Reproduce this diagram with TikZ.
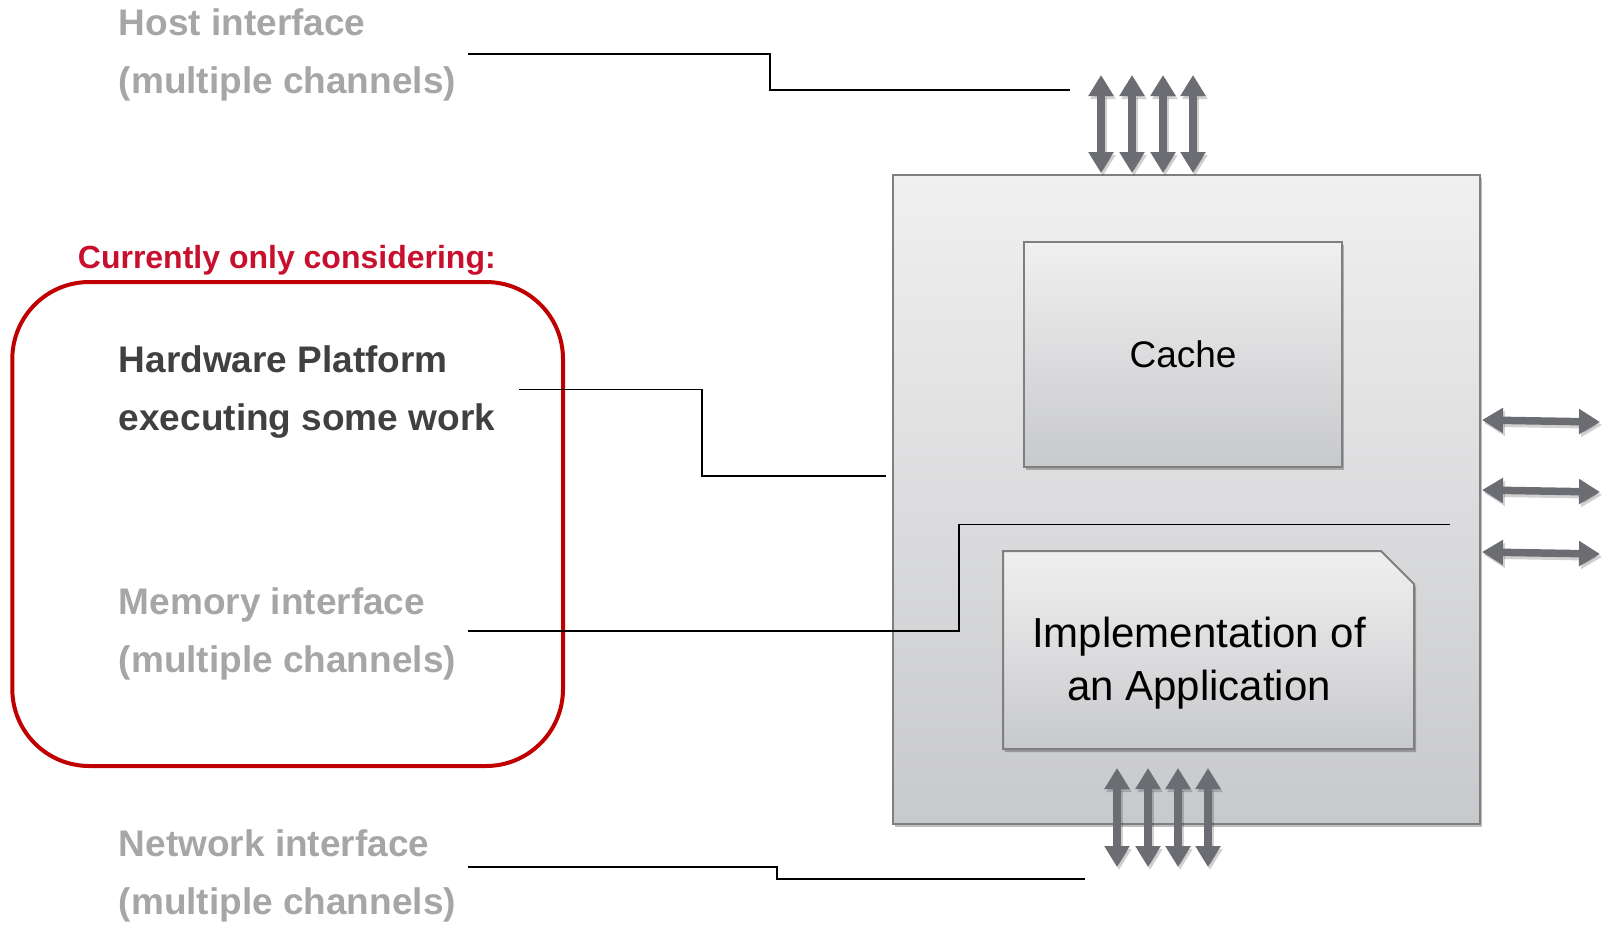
\documentclass[tikz,border=0pt]{standalone}
\usepackage{fontspec}
\setmainfont{Liberation Sans}
\usetikzlibrary{arrows.meta,shadows}

\definecolor{labelgray}{HTML}{A6A6A6}
\definecolor{darktext}{HTML}{404040}
\definecolor{alertred}{HTML}{C8102E}
\definecolor{boxred}{HTML}{C00000}
\definecolor{arrowgray}{HTML}{6B6D73}
\definecolor{edgegray}{HTML}{7F7F7F}
\definecolor{shadetop}{HTML}{F0F0F0}
\definecolor{shadebot}{HTML}{C8C9CC}

\tikzset{
  graylabel/.style={anchor=base west, inner sep=0pt, text=labelgray,
    font=\fontsize{37}{44}\selectfont\bfseries},
  darklabel/.style={graylabel, text=darktext},
  redhead/.style={anchor=base west, inner sep=0pt, text=alertred,
    font=\fontsize{32}{38}\selectfont\bfseries},
  leader/.style={draw=black, line width=1.6pt},
  softshadow/.style={drop shadow={shadow xshift=2pt, shadow yshift=-3pt,
    opacity=0.25, fill=black}},
  greybox/.style={draw=edgegray, line width=2pt, top color=shadetop,
    bottom color=shadebot, softshadow},
  portarrow/.style={draw=arrowgray, line width=7.5pt,
    {Triangle[width=24pt,length=21pt]}-{Triangle[width=24pt,length=21pt]}},
  portshadow/.style={portarrow, draw=black, opacity=0.18,
    transform canvas={xshift=2pt, yshift=-3pt}},
}

\begin{document}
\begin{tikzpicture}[x=1pt,y=-1pt]
\useasboundingbox (0,0) rectangle (1603,924);

% ---- left-hand labels ----
\node[graylabel] (host1) at (118.6,35)  {Host interface};
\node[graylabel] (host2) at (118.6,93)  {(multiple channels)};
\node[redhead]   (focus) at (77.7,268)  {Currently only considering:};
\node[darklabel] (hw1)   at (118.6,372) {Hardware Platform};
\node[darklabel] (hw2)   at (118.6,430) {executing some work};
\node[graylabel] (mem1)  at (118.6,614.5) {Memory interface};
\node[graylabel] (mem2)  at (118.6,672.5) {(multiple channels)};
\node[graylabel] (net1)  at (118.6,856) {Network interface};
\node[graylabel] (net2)  at (118.6,914) {(multiple channels)};

% ---- highlighted group ----
\node (focusbox) [draw=boxred, line width=4pt, rounded corners=77pt,
  minimum width=550.7pt, minimum height=484pt, inner sep=0pt] at (287.65,524) {};

% ---- platform block ----
\node (platform) [greybox, minimum width=587.5pt, minimum height=649pt,
  inner sep=0pt] at (1186.25,499.5) {};

\node (cache) [greybox, minimum width=318pt, minimum height=225pt, inner sep=0pt,
  font=\fontsize{37}{44}\selectfont] at (1183,354.5) {Cache};

\path[greybox] (1003,551) -- (1381,551) -- (1414,584) -- (1414,749)
  -- (1003,749) -- cycle;
\node (impl1) [anchor=base, inner sep=0pt, font=\fontsize{42}{52}\selectfont]
  at (1199,647) {Implementation of};
\node (impl2) [anchor=base, inner sep=0pt, font=\fontsize{42}{52}\selectfont]
  at (1199,700) {an Application};

% ---- interface ports ----
\foreach \x [count=\i] in {1101,1132,1163,1193} {
  \coordinate (top\i a) at (\x,75);
  \coordinate (top\i b) at (\x,173);
  \draw[portshadow] (top\i a) -- (top\i b);
  \draw[portarrow]  (top\i a) -- (top\i b);
}
\foreach \x [count=\i] in {1117,1148,1178,1208} {
  \coordinate (bot\i a) at (\x,768);
  \coordinate (bot\i b) at (\x,867);
  \draw[portshadow] (bot\i a) -- (bot\i b);
  \draw[portarrow]  (bot\i a) -- (bot\i b);
}
\foreach \y [count=\i] in {420,490,552} {
  \coordinate (side\i a) at (1482,\y);
  \coordinate (side\i b) at (1600,\y+2);
  \draw[portshadow] (side\i a) -- (side\i b);
  \draw[portarrow]  (side\i a) -- (side\i b);
}

% ---- leader lines ----
\coordinate (hostL) at (468,54);
\coordinate (hostR) at (1070,90);
\draw[leader] (hostL) -- (770,54) -- (770,90) -- (hostR);

\coordinate (hwL) at (519,389.5);
\coordinate (hwR) at (886,476);
\draw[leader] (hwL) -- (702,389.5) -- (702,476) -- (hwR);

\coordinate (memL) at (468,631);
\coordinate (memR) at (1450,524.5);
\draw[leader] (memL) -- (959,631) -- (959,524.5) -- (memR);

\coordinate (netL) at (468,867);
\coordinate (netR) at (1085,879);
\draw[leader] (netL) -- (777,867) -- (777,879) -- (netR);
\end{tikzpicture}
\end{document}
